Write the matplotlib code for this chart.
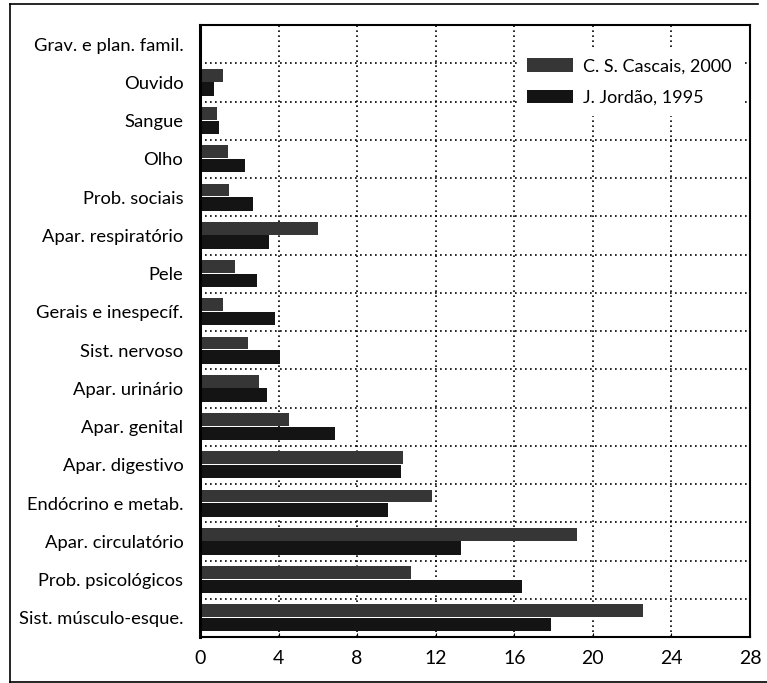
import matplotlib.pyplot as plt
from matplotlib.lines import Line2D
import numpy as np

plt.rcParams['font.family'] = ['Lato', 'DejaVu Sans']

# categorias (de cima para baixo)
categorias = ["Grav. e plan. famil.", "Ouvido", "Sangue", "Olho", "Prob. sociais",
              "Apar. respiratório", "Pele", "Gerais e inespecíf.", "Sist. nervoso",
              "Apar. urinário", "Apar. genital", "Apar. digestivo", "Endócrino e metab.",
              "Apar. circulatório", "Prob. psicológicos", "Sist. músculo-esque."]

# percentagens
cascais_2000 = [0, 1.15, 0.85, 1.45, 1.5, 6.0, 1.8, 1.15, 2.45, 3.0, 4.55,
                10.35, 11.8, 19.2, 10.75, 22.55]
jordao_1995 = [0, 0.7, 0.95, 2.3, 2.7, 3.5, 2.9, 3.8, 4.05, 3.4, 6.85,
               10.25, 9.55, 13.3, 16.4, 17.85]

serie_nomes = ["C. S. Cascais, 2000", "J. Jordão, 1995"]
x_ticks = [0, 4, 8, 12, 16, 20, 24, 28]

fig = plt.figure(figsize=(7.67, 6.83), dpi=100)
ax = fig.add_axes([200 / 767, 46 / 683, 550 / 767, 612 / 683])

y = np.arange(len(categorias))
h = 0.35
ax.barh(y - h / 2 - 0.01, cascais_2000, height=h - 0.02, color='#363636',
        linewidth=0, label=serie_nomes[0], zorder=3)
ax.barh(y + h / 2, jordao_1995, height=h, color='#141414',
        linewidth=0, label=serie_nomes[1], zorder=3)

ax.set_ylim(len(categorias) - 0.5, -0.5)
ax.set_xlim(0, 28)
ax.set_yticks(y)
ax.set_yticklabels(categorias, fontsize=13.2)
ax.set_xticks(x_ticks)
ax.set_xticklabels([str(t) for t in x_ticks], fontsize=14)
ax.tick_params(axis='y', length=0, pad=12)
ax.tick_params(axis='x', direction='in', length=3, pad=9)

# grelha pontilhada
for xv in x_ticks[1:-1]:
    ax.axvline(xv, color='black', linestyle=(0, (1, 2)), linewidth=1.2, zorder=1)
for yv in np.arange(0.5, len(categorias) - 0.5):
    ax.axhline(yv, color='black', linestyle=(0, (1, 2)), linewidth=1.2, zorder=1)

for lado in ['top', 'right', 'bottom']:
    ax.spines[lado].set_linewidth(1.5)
ax.spines['left'].set_linewidth(2.2)
ax.spines['left'].set_zorder(4)

leg = ax.legend(loc='upper right', bbox_to_anchor=(1.0, 0.975), fontsize=13,
                frameon=True, fancybox=False, edgecolor='white', facecolor='white',
                framealpha=1, handlelength=2.5, handleheight=0.75,
                handletextpad=0.6, labelspacing=0.85, borderpad=0.5)
leg.set_zorder(5)

# moldura da figura
fig.add_artist(Line2D([10 / 767, 758 / 767], [1 - 4 / 683, 1 - 4 / 683],
                      color='black', linewidth=1.2))
fig.add_artist(Line2D([10 / 767, 10 / 767], [0, 1 - 4 / 683],
                      color='black', linewidth=1.2))
fig.add_artist(Line2D([10 / 767, 1], [1 / 683, 1 / 683],
                      color='black', linewidth=1.2))

fig.savefig('out.png', dpi=100)
